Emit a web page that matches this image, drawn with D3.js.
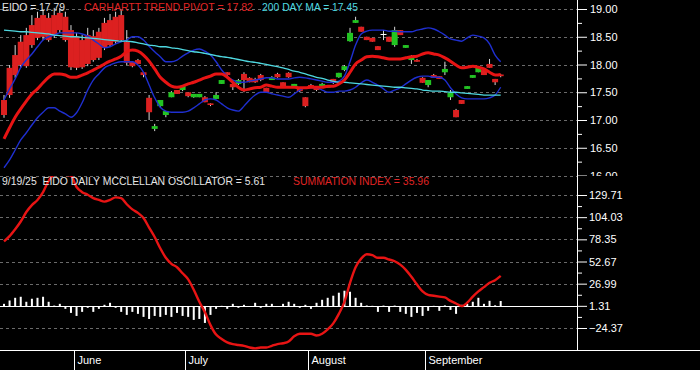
<!DOCTYPE html>
<html><head><meta charset="utf-8">
<script src="https://cdn.jsdelivr.net/npm/d3@7"></script>
<style>html,body{margin:0;padding:0;background:#000;overflow:hidden}svg{display:block}</style>
</head><body><svg id="c" width="700" height="370"></svg>
<script>
// ---- DATA ----
const opens  = [17.36,17.94,18.17,18.41,18.53,18.71,18.84,18.89,18.84,18.89,18.93,18.86,18.62,18.50,18.44,18.53,18.51,18.59,18.75,18.80,18.86,18.89,18.41,18.05,18.08,17.86,17.40,16.84,17.25,17.09,17.41,17.54,17.54,17.50,17.41,17.41,17.41,17.30,17.38,17.65,17.86,17.65,17.65,17.83,17.76,17.74,17.81,17.58,17.72,17.83,17.68,17.85,17.61,17.58,17.41,17.63,17.59,17.61,17.58,17.74,17.77,17.90,18.42,18.75,18.68,18.50,18.48,18.33,18.55,18.50,18.35,18.62,18.30,18.08,18.08,17.76,17.63,17.81,17.79,17.86,17.41,17.18,17.36,17.56,17.76,17.86,17.90,18.01,17.74,17.82];
const highs  = [17.45,17.99,18.35,18.53,18.66,18.89,18.95,18.98,18.93,19.02,19.02,18.95,18.71,18.57,18.53,18.66,18.62,18.66,18.84,18.91,18.95,18.98,18.62,18.06,18.10,17.86,17.45,16.93,17.36,17.16,17.52,17.54,17.61,17.50,17.47,17.47,17.43,17.30,17.50,17.72,17.86,17.67,17.74,17.86,17.77,17.76,17.83,17.58,17.79,17.85,17.68,17.86,17.65,17.58,17.41,17.65,17.61,17.67,17.63,17.74,17.85,17.99,18.66,18.86,18.68,18.50,18.48,18.33,18.62,18.50,18.68,18.62,18.35,18.17,18.10,17.77,17.72,17.83,17.79,18.05,17.54,17.20,17.36,17.61,17.81,17.94,17.92,18.10,17.74,17.83];
const lows   = [17.04,17.40,17.76,17.94,17.94,18.30,18.44,18.44,18.41,18.48,18.57,18.41,17.90,17.90,17.92,17.97,18.05,18.08,18.26,18.32,18.37,18.41,17.99,17.95,18.01,17.77,17.00,16.80,17.23,17.05,17.41,17.47,17.52,17.41,17.40,17.41,17.32,17.25,17.38,17.65,17.79,17.54,17.63,17.50,17.68,17.67,17.70,17.49,17.72,17.76,17.58,17.76,17.59,17.50,17.23,17.58,17.52,17.61,17.58,17.65,17.76,17.88,18.41,18.75,18.59,18.44,18.41,18.26,18.44,18.41,18.32,18.53,18.30,18.01,18.05,17.67,17.59,17.76,17.74,17.81,17.36,17.05,17.29,17.56,17.76,17.86,17.81,17.94,17.63,17.77];
const closes = [17.09,17.45,17.81,17.99,17.97,18.35,18.48,18.50,18.44,18.53,18.62,18.44,17.95,17.94,17.95,18.01,18.08,18.12,18.30,18.35,18.41,18.44,18.03,17.97,18.01,17.81,17.14,16.89,17.36,17.16,17.50,17.47,17.61,17.43,17.47,17.47,17.32,17.27,17.45,17.72,17.81,17.59,17.72,17.72,17.68,17.68,17.72,17.50,17.77,17.77,17.59,17.77,17.65,17.52,17.25,17.59,17.54,17.65,17.63,17.67,17.85,17.97,18.57,18.80,18.59,18.44,18.41,18.26,18.55,18.41,18.62,18.53,18.35,18.14,18.05,17.67,17.72,17.76,17.74,17.92,17.49,17.05,17.29,17.61,17.81,17.94,17.81,17.94,17.68,17.79];
const trendPivot = [16.66,16.86,17.05,17.20,17.34,17.47,17.56,17.67,17.77,17.83,17.83,17.81,17.77,17.77,17.81,17.85,17.90,17.95,18.01,18.06,18.10,18.15,18.23,18.26,18.24,18.17,18.06,17.92,17.77,17.68,17.61,17.59,17.61,17.65,17.68,17.72,17.76,17.79,17.83,17.83,17.77,17.68,17.59,17.54,17.56,17.58,17.59,17.63,17.61,17.59,17.59,17.59,17.59,17.58,17.58,17.59,17.59,17.59,17.61,17.61,17.65,17.72,17.86,18.01,18.08,18.14,18.15,18.14,18.12,18.10,18.10,18.10,18.12,18.14,18.15,18.19,18.21,18.19,18.17,18.12,18.06,17.99,17.94,17.95,17.97,17.95,17.92,17.86,17.81,17.82];
const upperBand = [17.36,17.56,17.74,17.95,18.08,18.19,18.32,18.44,18.50,18.53,18.57,18.57,18.57,18.57,18.55,18.51,18.44,18.37,18.30,18.32,18.37,18.41,18.44,18.50,18.50,18.44,18.33,18.23,18.14,18.05,18.05,18.08,18.15,18.21,18.26,18.28,18.24,18.17,18.05,17.90,17.79,17.72,17.68,17.68,17.70,17.72,17.74,17.76,17.76,17.74,17.74,17.74,17.76,17.77,17.76,17.74,17.72,17.70,17.68,17.68,17.70,17.79,18.05,18.35,18.55,18.60,18.62,18.62,18.62,18.60,18.60,18.59,18.59,18.59,18.62,18.64,18.66,18.64,18.59,18.53,18.46,18.44,18.42,18.48,18.53,18.51,18.48,18.37,18.17,18.05];
const lowerBand = [16.14,16.28,16.46,16.64,16.77,16.91,17.04,17.14,17.22,17.22,17.16,17.11,17.05,17.13,17.31,17.54,17.72,17.83,17.94,17.99,18.03,18.05,18.05,18.05,17.99,17.86,17.63,17.40,17.23,17.16,17.14,17.14,17.14,17.16,17.22,17.29,17.36,17.38,17.36,17.29,17.22,17.18,17.16,17.25,17.36,17.45,17.50,17.50,17.47,17.45,17.43,17.41,17.47,17.54,17.58,17.58,17.58,17.54,17.50,17.50,17.52,17.52,17.54,17.59,17.67,17.72,17.68,17.63,17.56,17.50,17.54,17.58,17.65,17.72,17.77,17.79,17.79,17.77,17.77,17.72,17.58,17.47,17.40,17.38,17.38,17.38,17.38,17.40,17.45,17.59];
const ma200 = [18.62,18.61,18.60,18.59,18.59,18.58,18.57,18.56,18.55,18.53,18.52,18.51,18.50,18.50,18.49,18.48,18.47,18.46,18.45,18.44,18.43,18.42,18.42,18.41,18.39,18.37,18.35,18.34,18.32,18.32,18.30,18.29,18.27,18.25,18.23,18.22,18.20,18.18,18.16,18.14,18.13,18.11,18.09,18.07,18.05,18.04,18.02,18.00,17.98,17.96,17.94,17.91,17.88,17.86,17.83,17.80,17.77,17.75,17.72,17.70,17.68,17.68,17.67,17.66,17.65,17.64,17.63,17.62,17.61,17.60,17.59,17.59,17.58,17.57,17.56,17.54,17.53,17.52,17.52,17.51,17.50,17.50,17.49,17.48,17.47,17.46,17.45,17.45,17.45,17.45];
const oscillator = [2.3,6.2,9.3,10.5,4.7,8.2,9.3,10.5,4.7,0.3,2.3,-3.5,-8.2,-11.7,-7,-2.3,-7,-3.5,1.2,3.5,-2.3,-7,-10.5,-7,-9.3,-12.8,-15.2,-11.7,-12.8,-10.5,-12.8,-8.2,-11.7,-12.8,-16.3,-15.2,-19.8,-10.5,-3.5,0,-3.5,2.3,-2.3,1.2,-1.2,3.5,-2.3,2.3,2.3,-1.2,2.3,4.7,2.3,-2.3,1.2,-3.5,3.5,7,9.3,11.7,15.2,17.5,16.3,9.3,3.5,0.4,0,-7,0.3,-7,0.3,-7,-9.3,-12.8,-8.2,-11.7,-5.8,0,-5.8,0.5,-4.7,-9.3,1.2,2.3,4.7,9.3,2.3,5.8,0.6,5.61];
const summation = [76,82,90,99,110,118,124,133,146,153,154,153,152,139,133,130,126,124,122,124,127,126,119,113,109,103,92,81,68,57,50,46,39,32,20,6,-6,-21,-32,-37,-41,-43,-44,-45,-47,-48,-47,-47,-45,-43,-42,-40,-34,-31,-31,-31,-33,-31,-26,-19,-8,6,28,46,56,61,60,57,57,55,53,49,43,35,26,18,14,13,12,11,7,4,1,5,12,18,23,28,31,35.96];
const months = ["June","July","August","September"];
const monthStart = [13,33,55,76];
const priceTicks = [16,16.5,17,17.5,18,18.5,19];
const priceMinor = [16.25,16.75,17.25,17.75,18.25,18.75];
const lowerTicks = [-24.37,1.31,26.99,52.67,78.35,104.03,129.71];
const lowerMinor = [-11.53,14.15,39.83,65.51,91.19,116.87];

// ---- CHART ----
const svg = d3.select("#c");
const W = 700, H = 370, axisX = 577, bottomY = 350;
svg.append("rect").attr("width",W).attr("height",H).attr("fill","#000");

const x = d3.scaleLinear().domain([0, closes.length-1]).range([4, 500.7]);
const yP = d3.scaleLinear().domain([16, 19]).range([175.5, 9]);
const yL = d3.scaleLinear().domain([-24.37, 129.71]).range([328, 195]);
const font = "'Liberation Sans', Arial, sans-serif";

const defs = svg.append("defs");
defs.append("clipPath").attr("id","clipP").append("rect").attr("x",0).attr("y",0).attr("width",axisX).attr("height",176);
defs.append("clipPath").attr("id","clipL").append("rect").attr("x",0).attr("y",176).attr("width",axisX).attr("height",bottomY-176);
defs.append("clipPath").attr("id","clipPA").append("rect").attr("x",axisX).attr("y",0).attr("width",W-axisX).attr("height",176);

// gridlines
const grid = svg.append("g").attr("stroke","#6a6a6a").attr("stroke-dasharray","3,3").attr("stroke-width",1);
priceTicks.forEach(v => grid.append("line").attr("x1",0).attr("x2",axisX).attr("y1",Math.round(yP(v))+0.5).attr("y2",Math.round(yP(v))+0.5));
lowerTicks.forEach(v => { if (v !== 1.31) grid.append("line").attr("x1",0).attr("x2",axisX).attr("y1",Math.round(yL(v))+0.5).attr("y2",Math.round(yL(v))+0.5); });

// ---- price panel ----
const pp = svg.append("g").attr("clip-path","url(#clipP)");
const idx = d3.range(closes.length);
const bw = 6;
const cg = pp.append("g");
idx.forEach(i => {
  const o = opens[i], c = closes[i];
  const col = c > o ? "#22c422" : (c < o ? "#dc2020" : "#ffffff");
  cg.append("line").attr("x1",x(i)).attr("x2",x(i)).attr("y1",yP(highs[i])).attr("y2",yP(lows[i]))
    .attr("stroke","#d8d8d8").attr("stroke-width",1);
  const top = yP(Math.max(o,c)), bot = yP(Math.min(o,c));
  cg.append("rect").attr("x",x(i)-bw/2).attr("y",top).attr("width",bw).attr("height",Math.max(1,bot-top))
    .attr("fill",col);
});

const line = arr => d3.line().x((d,i)=>x(i)).y(d=>yP(d)).curve(d3.curveMonotoneX)(arr);
pp.append("path").attr("d",line(upperBand)).attr("fill","none").attr("stroke","#1f2fd0").attr("stroke-width",1.4);
pp.append("path").attr("d",line(lowerBand)).attr("fill","none").attr("stroke","#1f2fd0").attr("stroke-width",1.4);
pp.append("path").attr("d",line(ma200)).attr("fill","none").attr("stroke","#4fd8e0").attr("stroke-width",1.3);
pp.append("path").attr("d",line(trendPivot)).attr("fill","none").attr("stroke","#e81414").attr("stroke-width",3);

// ---- lower panel ----
const lp = svg.append("g").attr("clip-path","url(#clipL)");
lp.append("line").attr("x1",0).attr("x2",axisX).attr("y1",Math.round(yL(1.31))+0.5).attr("y2",Math.round(yL(1.31))+0.5).attr("stroke","#fff").attr("stroke-width",1);
idx.forEach(i => {
  const v = oscillator[i];
  const y0 = Math.round(yL(1.31)), y1 = yL(1.31 + v);
  lp.append("rect").attr("x",x(i)-1).attr("width",2)
    .attr("y",Math.min(y0,y1)).attr("height",Math.max(0.5,Math.abs(y1-y0))).attr("fill","#fff");
});
lp.append("path").attr("d",d3.line().x((d,i)=>x(i)).y(d=>yL(d)).curve(d3.curveMonotoneX)(summation))
  .attr("fill","none").attr("stroke","#e81414").attr("stroke-width",2.4);

// ---- axes ----
function styleAxis(g){
  g.select(".domain").remove();
  g.selectAll("line").attr("stroke","#fff");
  g.selectAll("text").attr("fill","#fff").attr("font-family",font).attr("font-size",11);
}
const ap = svg.append("g").attr("clip-path","url(#clipPA)");
ap.append("g").attr("transform",`translate(${axisX},0)`)
  .call(d3.axisRight(yP).tickValues(priceTicks).tickSize(10).tickPadding(3).tickFormat(d3.format(".2f"))).call(styleAxis);
ap.append("g").attr("transform",`translate(${axisX},0)`)
  .call(d3.axisRight(yP).tickValues(priceMinor).tickSize(5).tickFormat("")).call(styleAxis);
svg.append("g").attr("transform",`translate(${axisX},0)`)
  .call(d3.axisRight(yL).tickValues(lowerTicks).tickSize(10).tickPadding(2).tickFormat(d3.format(".2f"))).call(styleAxis);
svg.append("g").attr("transform",`translate(${axisX},0)`)
  .call(d3.axisRight(yL).tickValues(lowerMinor).tickSize(5).tickFormat("")).call(styleAxis);
svg.append("line").attr("x1",axisX+0.5).attr("x2",axisX+0.5).attr("y1",0).attr("y2",bottomY).attr("stroke","#fff");
svg.append("line").attr("x1",0).attr("x2",W).attr("y1",bottomY+0.5).attr("y2",bottomY+0.5).attr("stroke","#fff");

// month axis
const step = x(1)-x(0);
monthStart.forEach((m,k) => {
  const sx = Math.round(x(m) - step/2) + 0.5;
  svg.append("line").attr("x1",sx).attr("x2",sx).attr("y1",bottomY).attr("y2",H).attr("stroke","#fff");
  svg.append("text").attr("x",sx+3).attr("y",364).attr("fill","#fff").attr("font-family",font).attr("font-size",11).text(months[k]);
});

// ---- titles ----
const t = (xx,yy,txt,col,len) => svg.append("text").attr("x",xx).attr("y",yy).attr("fill",col)
  .attr("font-family",font).attr("font-size",11).attr("textLength",len).attr("lengthAdjust","spacingAndGlyphs")
  .style("white-space","pre").text(txt);
t(2,11,"EIDO = " + closes[closes.length-1].toFixed(2),"#e6e6e6",63);
t(84,11,"CARHARTT TREND PIVOT = " + trendPivot[trendPivot.length-1].toFixed(2),"#e02424",169);
t(262,11,"200 DAY MA = " + ma200[ma200.length-1].toFixed(2),"#4fd8e0",96);
t(2,185,"9/19/25  EIDO DAILY MCCLELLAN OSCILLATOR = " + oscillator[oscillator.length-1].toFixed(2),"#e6e6e6",263);
t(293,185,"SUMMATION INDEX = " + summation[summation.length-1].toFixed(2),"#e02424",136);
</script></body></html>
